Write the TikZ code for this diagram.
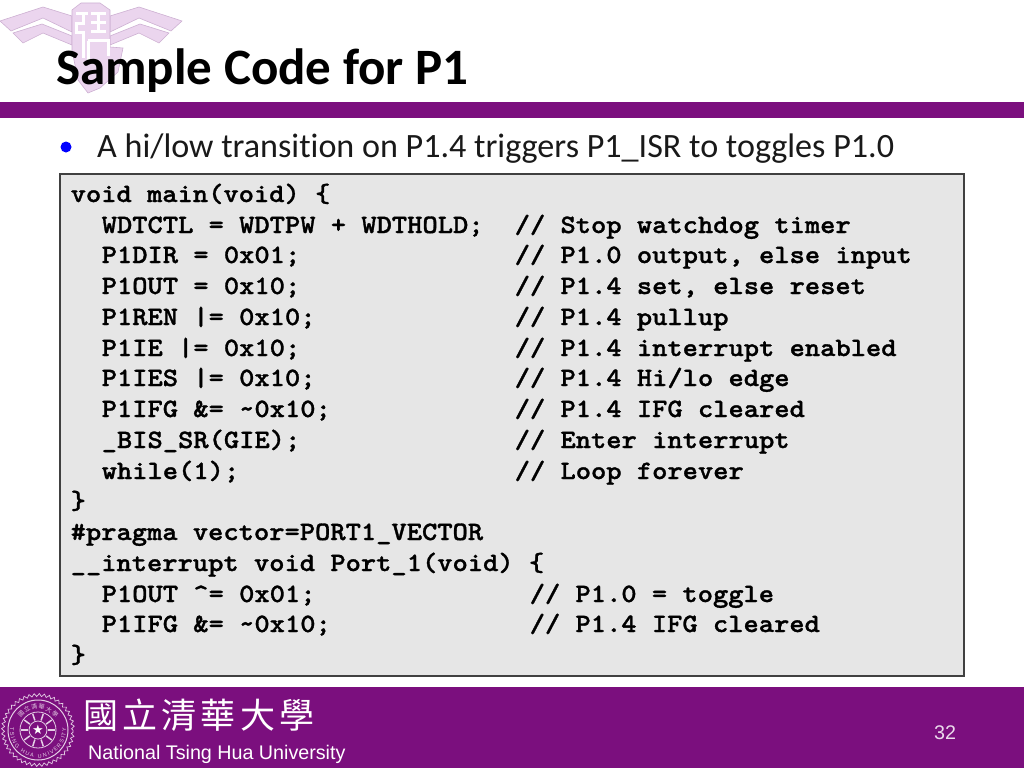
\documentclass[tikz,border=0pt]{standalone}
\usepackage{fontspec}
\setmainfont{Carlito}[Ligatures=NoCommon]
\newfontfamily\codefont{lmmonolt10-bold.otf}[FakeBold=1.2,FakeStretch=1.098]
\newfontfamily\cjkfont{Noto Sans CJK TC}
\newfontfamily\footfont{Liberation Sans}
\newfontfamily\starfont{DejaVu Sans}
\usetikzlibrary{decorations.pathmorphing,decorations.text}
\definecolor{nthupurple}{HTML}{7B0F7E}
\definecolor{wing}{HTML}{EBD5EE}
\definecolor{wingedge}{HTML}{CDB0D2}
\definecolor{codebg}{HTML}{E6E6E6}
\colorlet{seal}{white!80!nthupurple}
\tikzset{
  txt/.style={inner sep=0pt,anchor=base west},
  code/.style={txt,xshift=-0.5pt,yshift=1pt,font=\codefont\fontsize{26.5}{26.5}\selectfont,text=black},
  foot/.style={txt,font=\footfont\fontsize{19.7}{20}\selectfont,text=white},
  cjk/.style={txt,font=\cjkfont\addfontfeature{LetterSpace=12}\fontsize{35}{35}\selectfont,text=white},
  wingpart/.style={fill=wing,draw=wingedge,line width=0.6pt}
}
\begin{document}
\begin{tikzpicture}[x=1pt,y=-1pt]
        \useasboundingbox (0,0) rectangle (1024,768);
        % logo behind the title
        \draw[wingpart] (0,21)--(43,7)--(72,16)--(72,32)--(43,18)--(11,31)--cycle;
        \draw[wingpart] (13,33)--(42,24)--(72,36)--(72,45)--(43,33)--(23,43)--cycle;
        \draw[wingpart] (182,21)--(139,7)--(110,16)--(110,32)--(139,18)--(171,31)--cycle;
        \draw[wingpart] (169,33)--(140,24)--(110,36)--(110,45)--(139,33)--(159,43)--cycle;
        \draw[wingpart] (72,10)--(81,3)--(100,3)--(110,10)--(110,47)--(123,48)--(118,72)--(100,88)--(88,93)--(78,80)--(72,50)--cycle;
        \draw[white,line width=3pt] (76,14)--(88,14) (83,13)--(83,24)--(76,24)--(76,33)--(83,33)--(83,58)
          (91,14)--(106,14) (91,23)--(106,23) (91,32)--(106,32) (88,41)--(108,41)--(108,56) (88,41)--(88,60) (98,14)--(98,32);
        % title
        \node[txt,font=\bfseries\fontsize{51}{51}\selectfont] (title) at (56,84.5) {Sample Code for P1};
        \fill[nthupurple] (0,102) rectangle (1024,118);
        % bullet
        \node[fill=blue,circle,inner sep=0pt,minimum size=11pt] (dot) at (66,147) {};
        \node[txt,font=\fontsize{34.1}{34.1}\selectfont,text=black!90] (bullet) at (97,157) {A hi/low transition on P1.4 triggers P1\_ISR to toggles P1.0};
        % code box
        \draw[fill=codebg,draw=black!75,line width=1.3pt] (60,174) rectangle (964,676);
        \node[code] (main) at (71,203) {void main(void) \{};
        \node[code] (wdtctl) at (102,234) {WDTCTL = WDTPW + WDTHOLD;};
        \node[code] (dir) at (102,264) {P1DIR = 0x01;};
        \node[code] (out) at (102,295) {P1OUT = 0x10;};
        \node[code] (ren) at (102,326) {P1REN |= 0x10;};
        \node[code] (ie) at (102,357) {P1IE |= 0x10;};
        \node[code] (ies) at (102,387) {P1IES |= 0x10;};
        \node[code] (ifg) at (102,418) {P1IFG \&= \textasciitilde0x10;};
        \node[code] (bis) at (102,449) {\_BIS\_SR(GIE);};
        \node[code] (wh) at (102,480) {while(1);};
        \node[code] (mainend) at (71,510) {\}};
        \node[code] (pragma) at (71,541) {\#pragma vector=PORT1\_VECTOR};
        \node[code] (isr) at (71,572) {\_\_interrupt void Port\_1(void) \{};
        \node[code] (toggle) at (102,603) {P1OUT \textasciicircum= 0x01;};
        \node[code] (clear) at (102,633) {P1IFG \&= \textasciitilde0x10;};
        \node[code] (isrend) at (71,664) {\}};
        \node[code] (cwdt) at (515,234) {// Stop watchdog timer};
        \node[code] (cdir) at (515,264) {// P1.0 output, else input};
        \node[code] (cout) at (515,295) {// P1.4 set, else reset};
        \node[code] (cren) at (515,326) {// P1.4 pullup};
        \node[code] (cie) at (515,357) {// P1.4 interrupt enabled};
        \node[code] (cies) at (515,387) {// P1.4 Hi/lo edge};
        \node[code] (cifg) at (515,418) {// P1.4 IFG cleared};
        \node[code] (cbis) at (515,449) {// Enter interrupt};
        \node[code] (cwh) at (515,480) {// Loop forever};
        \node[code] (ctoggle) at (530,603) {// P1.0 = toggle};
        \node[code] (cclear) at (530,633) {// P1.4 IFG cleared};
        % footer
        \fill[nthupurple] (0,687) rectangle (1024,768);
        \draw[seal,line width=0.7pt,decorate,decoration={zigzag,segment length=5pt,amplitude=1.5pt}] (38,730) circle (35pt);
        \draw[seal,line width=1pt] (38,730) circle (30pt);
        \draw[seal,line width=0.8pt] (38,730) circle (18pt) circle (9pt);
        \foreach \a in {0,36,...,324}
          \draw[seal,line width=1.5pt] (38,730) ++(\a:10pt) -- ++(\a:7pt);
        \path[decorate,decoration={text along path,text align={fit to path},text color=seal,
          text={|\footfont\fontsize{5.5}{6}\selectfont|TSING HUA UNIVERSITY}}]
          (38,730) ++(175:28pt) arc[start angle=175,end angle=365,radius=28pt];
        \path[decorate,decoration={text along path,text align={fit to path},text color=seal,
          text={|\cjkfont\fontsize{6}{6}\selectfont|國立清華大學}}]
          (38,730) ++(145:21pt) arc[start angle=145,end angle=35,radius=21pt];
        \node[white,inner sep=0pt,font=\starfont\fontsize{13}{13}\selectfont] (star) at (38,730) {★};
        \node[cjk] (cname) at (83,728) {國立清華大學};
        \node[foot] (ename) at (88,759) {National Tsing Hua University};
        \node[foot,text=white!85!nthupurple] (page) at (934,739) {32};
\end{tikzpicture}
\end{document}
